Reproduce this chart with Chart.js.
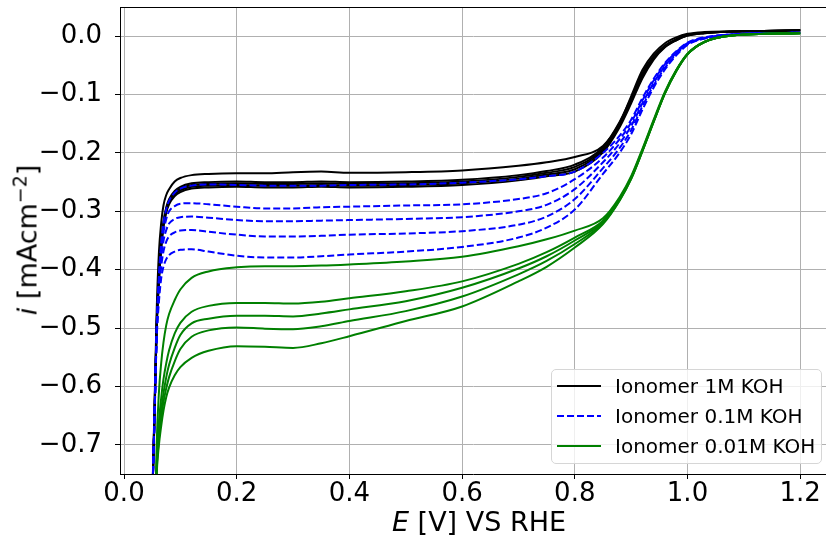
<!DOCTYPE html>
<html>
<head>
<meta charset="utf-8">
<script src="https://cdn.jsdelivr.net/npm/chart.js@4.4.1/dist/chart.umd.min.js"></script>
<style>
  html, body { margin: 0; padding: 0; background: #fff; }
  #wrap { position: relative; width: 826px; height: 544px; overflow: hidden; font-family: "DejaVu Sans", sans-serif; color: #000; }
  #chart { position: absolute; left: 0; top: 0; }
  .axis-title { position: absolute; font-size: 27px; line-height: 1; white-space: nowrap; }
  #xTitle { left: 479px; top: 508px; transform: translateX(-50%); }
  #yTitle { left: 27px; top: 240px; transform: translate(-50%, -50%) rotate(-90deg); }
  .sup { font-size: 0.7em; position: relative; top: -0.55em; }
  #legend { position: absolute; left: 551px; top: 369px; width: 271px; height: 95px; box-sizing: border-box;
            border: 1px solid #d6d6d6; border-radius: 5px; background: rgba(255, 255, 255, 0.8); font-size: 20px; }
  .legend-row { position: absolute; left: 5px; height: 24px; display: flex; align-items: center; white-space: nowrap; }
  .legend-row svg { margin-right: 14px; }
</style>
</head>
<body>
<div id="wrap">
  <canvas id="chart" width="826" height="544"></canvas>
  <div id="xTitle" class="axis-title"><i>E</i> [V] VS RHE</div>
  <div id="yTitle" class="axis-title"><i>i</i> [mAcm<span class="sup">−2</span>]</div>
  <div id="legend"></div>
</div>
<script>
// axis limits and ticks
const X_MIN = -0.0071, X_MAX = 1.2458;
const Y_MIN = -0.75, Y_MAX = 0.05;
const X_TICKS = [0.0, 0.2, 0.4, 0.6, 0.8, 1.0, 1.2];
const Y_TICKS = [-0.7, -0.6, -0.5, -0.4, -0.3, -0.2, -0.1, 0.0];

// 1M KOH (black, solid)
const E_1M = [0.050, 0.054, 0.058, 0.062, 0.066, 0.070, 0.075, 0.080, 0.090, 0.100, 0.120, 0.150, 0.200, 0.250, 0.300, 0.350, 0.400, 0.500, 0.600, 0.700, 0.750, 0.800, 0.850, 0.880, 0.900, 0.920, 0.940, 0.960, 0.980, 1.000, 1.030, 1.080, 1.200];
const I_1M_a = [-0.80, -0.64, -0.47, -0.37, -0.32, -0.290, -0.272, -0.262, -0.249, -0.243, -0.238, -0.236, -0.235, -0.235, -0.233, -0.232, -0.234, -0.233, -0.230, -0.222, -0.216, -0.207, -0.188, -0.148, -0.103, -0.058, -0.030, -0.012, -0.002, 0.004, 0.007, 0.008, 0.010];
const I_1M_b = [-0.80, -0.65, -0.49, -0.41, -0.355, -0.318, -0.293, -0.279, -0.265, -0.258, -0.252, -0.250, -0.249, -0.250, -0.250, -0.249, -0.250, -0.249, -0.246, -0.238, -0.231, -0.220, -0.190, -0.146, -0.106, -0.063, -0.034, -0.016, -0.005, 0.002, 0.006, 0.008, 0.010];
const I_1M_c = [-0.80, -0.65, -0.49, -0.41, -0.358, -0.321, -0.296, -0.282, -0.268, -0.261, -0.255, -0.253, -0.252, -0.253, -0.253, -0.252, -0.253, -0.252, -0.249, -0.241, -0.234, -0.224, -0.193, -0.149, -0.109, -0.066, -0.036, -0.017, -0.006, 0.002, 0.006, 0.008, 0.010];
const I_1M_d = [-0.80, -0.66, -0.50, -0.42, -0.361, -0.324, -0.299, -0.285, -0.271, -0.264, -0.258, -0.256, -0.255, -0.256, -0.256, -0.255, -0.256, -0.255, -0.252, -0.244, -0.237, -0.228, -0.196, -0.152, -0.112, -0.069, -0.038, -0.018, -0.007, 0.001, 0.005, 0.008, 0.010];
const I_1M_e = [-0.80, -0.66, -0.50, -0.42, -0.364, -0.327, -0.302, -0.288, -0.274, -0.267, -0.261, -0.259, -0.258, -0.259, -0.259, -0.258, -0.259, -0.258, -0.255, -0.247, -0.240, -0.232, -0.199, -0.155, -0.115, -0.072, -0.040, -0.019, -0.007, 0.001, 0.005, 0.008, 0.010];

// 0.1M KOH (blue, dashed)
const E_01M = [0.050, 0.054, 0.058, 0.062, 0.066, 0.070, 0.075, 0.080, 0.090, 0.100, 0.120, 0.150, 0.200, 0.250, 0.300, 0.350, 0.400, 0.500, 0.600, 0.700, 0.750, 0.800, 0.850, 0.880, 0.900, 0.920, 0.940, 0.960, 0.980, 1.000, 1.030, 1.080, 1.200];
const I_01M_a = [-0.80, -0.66, -0.50, -0.41, -0.355, -0.320, -0.296, -0.282, -0.268, -0.261, -0.256, -0.254, -0.255, -0.256, -0.256, -0.256, -0.255, -0.254, -0.251, -0.245, -0.240, -0.232, -0.200, -0.170, -0.143, -0.106, -0.073, -0.046, -0.026, -0.011, -0.002, 0.003, 0.006];
const I_01M_b = [-0.80, -0.66, -0.505, -0.42, -0.37, -0.337, -0.313, -0.300, -0.291, -0.287, -0.286, -0.288, -0.292, -0.295, -0.295, -0.293, -0.292, -0.290, -0.288, -0.279, -0.269, -0.245, -0.208, -0.176, -0.148, -0.110, -0.076, -0.048, -0.027, -0.012, -0.003, 0.003, 0.006];
const I_01M_c = [-0.80, -0.66, -0.51, -0.43, -0.38, -0.351, -0.332, -0.321, -0.313, -0.310, -0.309, -0.311, -0.315, -0.317, -0.317, -0.316, -0.315, -0.313, -0.310, -0.300, -0.289, -0.262, -0.216, -0.183, -0.154, -0.115, -0.080, -0.051, -0.029, -0.013, -0.003, 0.003, 0.006];
const I_01M_d = [-0.80, -0.66, -0.515, -0.44, -0.395, -0.369, -0.352, -0.343, -0.336, -0.333, -0.332, -0.335, -0.340, -0.343, -0.343, -0.342, -0.340, -0.338, -0.334, -0.323, -0.309, -0.279, -0.226, -0.191, -0.161, -0.120, -0.084, -0.054, -0.031, -0.014, -0.004, 0.003, 0.006];
const I_01M_e = [-0.80, -0.66, -0.52, -0.455, -0.415, -0.395, -0.382, -0.375, -0.369, -0.366, -0.365, -0.369, -0.376, -0.379, -0.379, -0.377, -0.374, -0.369, -0.361, -0.345, -0.328, -0.297, -0.236, -0.199, -0.168, -0.126, -0.088, -0.057, -0.033, -0.015, -0.004, 0.002, 0.006];

// 0.01M KOH (green, solid)
const E_001M = [0.055, 0.058, 0.062, 0.066, 0.070, 0.075, 0.080, 0.090, 0.100, 0.120, 0.150, 0.200, 0.250, 0.300, 0.350, 0.400, 0.500, 0.600, 0.700, 0.750, 0.800, 0.850, 0.880, 0.900, 0.920, 0.940, 0.960, 0.980, 1.000, 1.030, 1.080, 1.200];
const I_001M_a = [-0.85, -0.70, -0.61, -0.56, -0.525, -0.495, -0.476, -0.452, -0.434, -0.414, -0.403, -0.396, -0.394, -0.394, -0.393, -0.391, -0.386, -0.378, -0.360, -0.348, -0.333, -0.312, -0.275, -0.240, -0.193, -0.143, -0.095, -0.058, -0.030, -0.010, 0.001, 0.005];
const I_001M_b = [-0.85, -0.73, -0.66, -0.62, -0.588, -0.560, -0.538, -0.509, -0.491, -0.472, -0.462, -0.457, -0.457, -0.458, -0.455, -0.449, -0.437, -0.420, -0.390, -0.370, -0.345, -0.316, -0.278, -0.242, -0.195, -0.145, -0.097, -0.059, -0.031, -0.010, 0.001, 0.005];
const I_001M_c = [-0.85, -0.74, -0.68, -0.64, -0.612, -0.584, -0.563, -0.534, -0.512, -0.492, -0.484, -0.479, -0.479, -0.480, -0.475, -0.468, -0.454, -0.431, -0.398, -0.377, -0.350, -0.318, -0.279, -0.243, -0.196, -0.146, -0.097, -0.059, -0.031, -0.010, 0.001, 0.005];
const I_001M_d = [-0.85, -0.745, -0.69, -0.655, -0.627, -0.603, -0.584, -0.557, -0.536, -0.515, -0.504, -0.499, -0.501, -0.502, -0.497, -0.488, -0.471, -0.446, -0.408, -0.385, -0.356, -0.320, -0.280, -0.244, -0.197, -0.146, -0.098, -0.060, -0.031, -0.010, 0.001, 0.005];
const I_001M_e = [-0.85, -0.75, -0.70, -0.668, -0.642, -0.618, -0.602, -0.581, -0.567, -0.551, -0.539, -0.531, -0.532, -0.534, -0.526, -0.514, -0.488, -0.463, -0.420, -0.395, -0.362, -0.322, -0.281, -0.245, -0.197, -0.147, -0.098, -0.060, -0.031, -0.010, 0.001, 0.005];

const GROUPS = [
  { label: 'Ionomer 1M KOH', color: '#000000', dash: [], order: 3, E: E_1M, runs: [I_1M_a, I_1M_b, I_1M_c, I_1M_d, I_1M_e] },
  { label: 'Ionomer 0.1M KOH', color: '#0000ff', dash: [7, 3], order: 2, E: E_01M, runs: [I_01M_a, I_01M_b, I_01M_c, I_01M_d, I_01M_e] },
  { label: 'Ionomer 0.01M KOH', color: '#008000', dash: [], order: 1, E: E_001M, runs: [I_001M_a, I_001M_b, I_001M_c, I_001M_d, I_001M_e] }
];

const toPoints = (xs, ys) => xs.map((x, k) => ({ x, y: ys[k] }));
const fmtTick = v => (v < 0 ? '\u2212' : '') + Math.abs(v).toFixed(1);

const datasets = GROUPS.flatMap(g => g.runs.map(run => ({
  label: g.label,
  data: toPoints(g.E, run),
  borderColor: g.color,
  borderDash: g.dash,
  borderWidth: 2,
  borderJoinStyle: 'round',
  pointRadius: 0,
  fill: false,
  cubicInterpolationMode: 'monotone',
  order: g.order
})));

// matplotlib style frame: top spine (left and bottom come from the axis borders)
const topSpine = {
  id: 'topSpine',
  afterDraw(chart) {
    const { ctx, chartArea: a } = chart;
    ctx.save();
    ctx.strokeStyle = '#000';
    ctx.lineWidth = 1;
    ctx.beginPath();
    ctx.moveTo(a.left, a.top + 0.5);
    ctx.lineTo(a.right, a.top + 0.5);
    ctx.stroke();
    ctx.restore();
  }
};

const gridStyle = { color: '#b0b0b0', lineWidth: 1, drawTicks: true, tickLength: 5, tickColor: '#000', tickWidth: 1 };
const tickFont = { family: "'DejaVu Sans', sans-serif", size: 26 };

new Chart(document.getElementById('chart'), {
  type: 'line',
  data: { datasets },
  options: {
    responsive: false,
    animation: false,
    devicePixelRatio: 1,
    layout: { padding: { top: 7, right: 0, bottom: 0, left: 0 } },
    plugins: { legend: { display: false }, tooltip: { enabled: false } },
    scales: {
      x: {
        type: 'linear',
        min: X_MIN,
        max: X_MAX,
        afterBuildTicks: s => { s.ticks = X_TICKS.map(v => ({ value: v })); },
        afterFit: s => { s.height = 70; s.paddingLeft = 0; s.paddingRight = 0; },
        grid: gridStyle,
        border: { display: true, color: '#000', width: 1 },
        ticks: { color: '#000', font: tickFont, padding: 0, maxRotation: 0, callback: v => fmtTick(v) }
      },
      y: {
        type: 'linear',
        min: Y_MIN,
        max: Y_MAX,
        afterBuildTicks: s => { s.ticks = Y_TICKS.map(v => ({ value: v })); },
        afterFit: s => { s.width = 120; s.paddingTop = 0; s.paddingBottom = 0; },
        grid: gridStyle,
        border: { display: true, color: '#000', width: 1 },
        ticks: { color: '#000', font: tickFont, padding: 13, callback: v => fmtTick(v) }
      }
    }
  },
  plugins: [topSpine]
});

// legend inside the axes, lower right
const legendBox = document.getElementById('legend');
GROUPS.forEach((g, k) => {
  const row = document.createElement('div');
  row.className = 'legend-row';
  row.style.top = (4 + k * 30) + 'px';
  row.innerHTML = `<svg width="44" height="4"><line x1="0" y1="2" x2="44" y2="2" stroke="${g.color}" stroke-width="2" stroke-dasharray="${g.dash.join(' ') || 'none'}"/></svg><span>${g.label}</span>`;
  legendBox.appendChild(row);
});
</script>
</body>
</html>
